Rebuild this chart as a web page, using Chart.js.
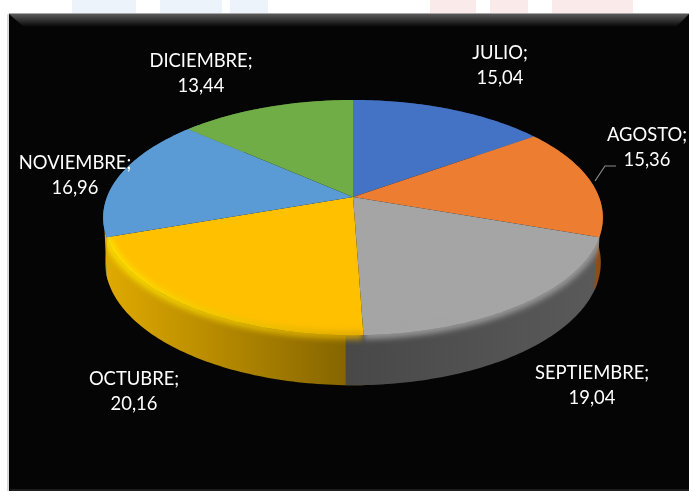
<!DOCTYPE html>
<html>
<head>
<meta charset="utf-8">
<title>Meses</title>
<script src="https://cdn.jsdelivr.net/npm/chart.js@4/dist/chart.umd.min.js"></script>
<style>
   html, body { margin: 0; padding: 0; background: #ffffff; }
   canvas { display: block; }
</style>
</head>
<body>
<canvas id="pieChart" width="689" height="491"></canvas>
<script>
// Values per month
const months = ['JULIO', 'AGOSTO', 'SEPTIEMBRE', 'OCTUBRE', 'NOVIEMBRE', 'DICIEMBRE'];
const shares = [15.04, 15.36, 19.04, 20.16, 16.96, 13.44];

// Slice styling, same order as the months
const faceColors = ['#4472c4', '#ed7d31', '#a5a5a5', '#ffc000', '#5b9bd5', '#70ad47'];
const wallColors = [
   ['#2a4a84', '#2a4a84'],
   ['#b5601f', '#8a4a1a'],
   ['#484848', '#5a5a5a'],
   ['#e0aa00', '#7f6000'],
   ['#3f78b4', '#3f78b4'],
   ['#4c7a30', '#4c7a30']
];
// Edge highlight, left and right end of each slice
const rimColors = [
   null,
   ['#f08a3c', '#f08a3c'],
   ['#a5a5a5', '#a5a5a5'],
   ['#ffe600', '#d8a400'],
   ['#72baf8', '#72baf8'],
   null
];

// Centre of each two line label
const labelSpots = [[500, 53], [647, 135], [592, 373], [134, 379], [75, 163], [201, 61]];
const leaderLine = [[595, 181], [605, 166], [616, 166]];
const labelFont = '18.4px Lato';
const lineGap = 25;

// Tilted disc: apex of the pie, radii and perspective strength
const disc = { cx: 353, cy: 197, rx: 246, ry: 114, k: 0.175 };
const base = { cx: 353, cy: 241, rx: 244, ry: 119, k: 0.175 };
// Each wall runs slightly past its slice so the rounded corner hides the next one
const wallOverlap = 0.06;

function project(d, angle, r = 1) {
   const u = Math.cos(angle) * r;
   const v = Math.sin(angle) * r;
   const w = 1 - d.k * v;
   return [d.cx + d.rx * u / w, d.cy + d.ry * v / w];
}

// Points along a slice edge, about one per degree
function rimPoints(d, start, end) {
   const steps = Math.max(2, Math.ceil((end - start) * 180 / Math.PI));
   const pts = [];
   for (let i = 0; i <= steps; i++) {
      pts.push(project(d, start + (end - start) * i / steps));
   }
   return pts;
}

function addPath(ctx, pts) {
   pts.forEach((p, i) => (i ? ctx.lineTo(p[0], p[1]) : ctx.moveTo(p[0], p[1])));
}

function drawBackdrop(ctx, w, h) {
   // Faint artwork showing above the panel
   ctx.fillStyle = '#edf3fb';
   ctx.fillRect(72, 0, 64, 13);
   ctx.fillRect(160, 0, 62, 13);
   ctx.fillRect(230, 0, 38, 13);
   ctx.fillStyle = '#fbeaea';
   ctx.fillRect(430, 0, 46, 13);
   ctx.fillRect(490, 0, 38, 13);
   ctx.fillRect(552, 0, 81, 13);

   // Panel with a soft left shadow
   ctx.fillStyle = '#d8d8d8';
   ctx.fillRect(7, 14, 2, h - 14);
   ctx.fillStyle = '#a8a8a8';
   ctx.fillRect(9, 13, w - 9, 1);
   ctx.fillStyle = '#050505';
   ctx.fillRect(9, 14, w - 9, h - 14);
   ctx.fillStyle = '#1c1c1c';
   ctx.fillRect(10, h - 2, w - 10, 2);

   // Bevel along the top edge
   const bevel = ctx.createLinearGradient(0, 14, 0, 27);
   bevel.addColorStop(0, '#5a5a5a');
   bevel.addColorStop(1, '#050505');
   ctx.fillStyle = bevel;
   ctx.beginPath();
   ctx.moveTo(9, 14);
   ctx.lineTo(w, 14);
   ctx.lineTo(w - 13, 27);
   ctx.lineTo(24, 27);
   ctx.closePath();
   ctx.fill();
}

function drawLabels(ctx) {
   ctx.font = labelFont;
   ctx.fillStyle = '#ffffff';
   ctx.textAlign = 'center';
   ctx.textBaseline = 'middle';
   months.forEach((name, i) => {
      const [x, y] = labelSpots[i];
      ctx.fillText(name + ';', x, y);
      ctx.fillText(shares[i].toFixed(2).replace('.', ','), x, y + lineGap);
   });
   ctx.strokeStyle = '#8c8c8c';
   ctx.lineWidth = 1.2;
   ctx.beginPath();
   addPath(ctx, leaderLine);
   ctx.stroke();
}

// Chart.js works out the slice angles, this plugin paints them as a tilted disc
const tiltedPie = {
   id: 'tiltedPie',
   beforeDraw(chart) {
      drawBackdrop(chart.ctx, chart.width, chart.height);
   },
   beforeDatasetsDraw(chart) {
      const ctx = chart.ctx;
      const arcs = chart.getDatasetMeta(0).data;
      const apex = project(disc, 0, 0);

      // Side walls first, the top faces cover whatever is behind them
      for (let i = arcs.length - 1; i >= 0; i--) {
         const arc = arcs[i];
         const end = arc.endAngle + wallOverlap;
         const top = rimPoints(disc, arc.startAngle, end);
         const low = rimPoints(base, arc.startAngle, end).reverse();
         const xs = top.map(p => p[0]);
         const fade = ctx.createLinearGradient(Math.min(...xs), 0, Math.max(...xs) + 1, 0);
         fade.addColorStop(0, wallColors[i][0]);
         fade.addColorStop(1, wallColors[i][1]);
         ctx.fillStyle = fade;
         ctx.beginPath();
         addPath(ctx, top.concat(low));
         ctx.closePath();
         ctx.fill();
      }

      arcs.forEach((arc) => {
         ctx.fillStyle = arc.options.backgroundColor;
         ctx.beginPath();
         addPath(ctx, [apex].concat(rimPoints(disc, arc.startAngle, arc.endAngle)));
         ctx.closePath();
         ctx.fill();
      });

      // Soft rounded edge where the face meets the wall
      arcs.forEach((arc, i) => {
         if (!rimColors[i]) return;
         const top = rimPoints(disc, arc.startAngle, arc.endAngle);
         const low = rimPoints(base, arc.startAngle, arc.endAngle);
         const front = top.filter(p => p[1] > disc.cy + 8);
         const xs = top.map(p => p[0]);
         const tint = ctx.createLinearGradient(Math.min(...xs), 0, Math.max(...xs) + 1, 0);
         tint.addColorStop(0, rimColors[i][0]);
         tint.addColorStop(1, rimColors[i][1]);

         ctx.save();
         ctx.beginPath();
         addPath(ctx, [apex].concat(top));
         ctx.closePath();
         addPath(ctx, low.concat(top.slice().reverse()));
         ctx.closePath();
         ctx.clip();
         ctx.filter = 'blur(3px)';
         ctx.strokeStyle = tint;
         ctx.lineWidth = 7;
         ctx.beginPath();
         addPath(ctx, front);
         ctx.stroke();
         ctx.restore();
      });

      return false;
   },
   afterDraw(chart) {
      drawLabels(chart.ctx);
   }
};

const pieChart = new Chart(document.getElementById('pieChart').getContext('2d'), {
   type: 'pie',
   data: {
      labels: months,
      datasets: [{
         data: shares,
         backgroundColor: faceColors,
         borderWidth: 0
      }]
   },
   options: {
      responsive: false,
      animation: false,
      plugins: {
         legend: { display: false },
         tooltip: { enabled: false }
      }
   },
   plugins: [tiltedPie]
});
</script>
</body>
</html>
